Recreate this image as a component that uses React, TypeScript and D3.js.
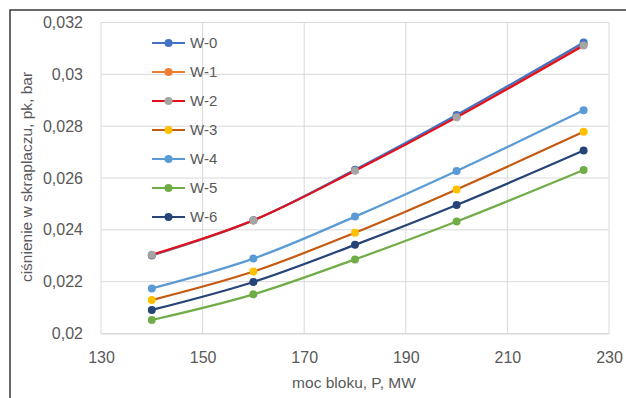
import { useEffect, useRef } from "react"
import * as d3 from "d3"

const power = [140, 160, 180, 200, 225]
const seriesNames = ["W-0", "W-1", "W-2", "W-3", "W-4", "W-5", "W-6"]
const w0 = [0.02302, 0.02437, 0.02632, 0.02843, 0.03123]
const w1 = [0.02301, 0.02436, 0.02630, 0.02838, 0.03115]
const w2 = [0.02304, 0.02437, 0.02628, 0.02834, 0.03111]
const w3 = [0.02129, 0.02239, 0.02389, 0.02556, 0.02778]
const w4 = [0.02174, 0.02289, 0.02451, 0.02627, 0.02861]
const w5 = [0.02052, 0.02151, 0.02286, 0.02432, 0.02631]
const w6 = [0.02091, 0.02199, 0.02342, 0.02496, 0.02706]
const xTicks = [130, 150, 170, 190, 210, 230]
const yTicks = [0.02, 0.022, 0.024, 0.026, 0.028, 0.03, 0.032]

const allSeries = [w0, w1, w2, w3, w4, w5, w6]
const lineColors = ["#4472c4", "#ed7d31", "#e3101b", "#c55a11", "#5b9bd5", "#70ad47", "#264478"]
const markerColors = ["#4472c4", "#ed7d31", "#a5a5a5", "#ffc000", "#5b9bd5", "#70ad47", "#264478"]
// draw order: lower series first, W-0/W-1/W-2 on top as in the picture
const drawOrder = [5, 6, 3, 4, 1, 0, 2]

export default function App() {
  const svgRef = useRef<SVGSVGElement>(null)

  useEffect(() => {
    if (!svgRef.current) return
    const width = 626
    const height = 398
    const margin = { top: 22.5, right: 17, bottom: 64.5, left: 101 }
    const innerWidth = width - margin.left - margin.right
    const innerHeight = height - margin.top - margin.bottom
    const font = "'Liberation Sans', Arial, sans-serif"
    const fmt = (v: number) => String(+v.toFixed(3)).replace(".", ",")

    const svg = d3.select(svgRef.current).attr("width", width).attr("height", height)
    svg.selectAll("*").remove()

    svg.append("rect").attr("width", width).attr("height", height).attr("fill", "#fff")
    svg.append("rect")
      .attr("x", 10).attr("y", 10).attr("width", 800).attr("height", 600)
      .attr("fill", "none").attr("stroke", "#444").attr("stroke-width", 1.6)

    const g = svg.append("g").attr("transform", `translate(${margin.left},${margin.top})`)

    const x = d3.scaleLinear().domain([130, 230]).range([0, innerWidth])
    const y = d3.scaleLinear().domain([0.02, 0.032]).range([innerHeight, 0])

    g.append("g")
      .selectAll("line.h")
      .data(yTicks)
      .join("line")
      .attr("x1", 0).attr("x2", innerWidth)
      .attr("y1", (d) => y(d)).attr("y2", (d) => y(d))
      .attr("stroke", "#d9d9d9").attr("stroke-width", 1)

    g.append("g")
      .selectAll("line.v")
      .data(xTicks)
      .join("line")
      .attr("x1", (d) => x(d)).attr("x2", (d) => x(d))
      .attr("y1", 0).attr("y2", innerHeight)
      .attr("stroke", "#d9d9d9").attr("stroke-width", 1)

    const xAxis = g.append("g")
      .attr("transform", `translate(0,${innerHeight})`)
      .call(d3.axisBottom(x).tickValues(xTicks).tickSize(0).tickPadding(18).tickFormat((d) => String(d)))
    xAxis.select(".domain").attr("stroke", "#d9d9d9")
    xAxis.selectAll("text").attr("font-family", font).attr("font-size", 16).attr("fill", "#595959")

    const yAxis = g.append("g")
      .call(d3.axisLeft(y).tickValues(yTicks).tickSize(0).tickPadding(18).tickFormat((d) => fmt(d as number)))
    yAxis.select(".domain").remove()
    yAxis.selectAll("text").attr("font-family", font).attr("font-size", 16).attr("fill", "#595959")

    const line = d3.line<number>()
      .x((_, i) => x(power[i]))
      .y((d) => y(d))
      .curve(d3.curveCatmullRom.alpha(0.5))

    drawOrder.forEach((si) => {
      const vals = allSeries[si]
      g.append("path")
        .datum(vals)
        .attr("d", line)
        .attr("fill", "none")
        .attr("stroke", lineColors[si])
        .attr("stroke-width", 2.2)
      g.append("g")
        .selectAll("circle")
        .data(vals)
        .join("circle")
        .attr("cx", (_, i) => x(power[i]))
        .attr("cy", (d) => y(d))
        .attr("r", 4)
        .attr("fill", markerColors[si])
    })

    const legend = svg.append("g").attr("transform", "translate(152,43)")
    seriesNames.forEach((name, i) => {
      const row = legend.append("g").attr("transform", `translate(0,${i * 29})`)
      row.append("line").attr("x1", 0).attr("x2", 33).attr("y1", 0).attr("y2", 0)
        .attr("stroke", lineColors[i]).attr("stroke-width", 2.2)
      row.append("circle").attr("cx", 16.5).attr("cy", 0).attr("r", 4).attr("fill", markerColors[i])
      row.append("text").attr("x", 38).attr("y", 0).attr("dy", "0.35em")
        .attr("font-family", font).attr("font-size", 15).attr("fill", "#595959").text(name)
    })

    svg.append("text")
      .attr("x", margin.left + innerWidth / 2 - 1).attr("y", 383).attr("dy", "0.35em")
      .attr("text-anchor", "middle").attr("font-family", font).attr("font-size", 15.5).attr("fill", "#595959")
      .text("moc bloku, P, MW")

    svg.append("text")
      .attr("transform", `translate(27,177) rotate(-90)`)
      .attr("dy", "0.35em")
      .attr("text-anchor", "middle").attr("font-family", font).attr("font-size", 15.5).attr("fill", "#595959")
      .text("ciśnienie w skraplaczu, pk, bar")
  }, [])

  return <svg ref={svgRef} style={{ position: "absolute", left: 0, top: 0 }} />
}
